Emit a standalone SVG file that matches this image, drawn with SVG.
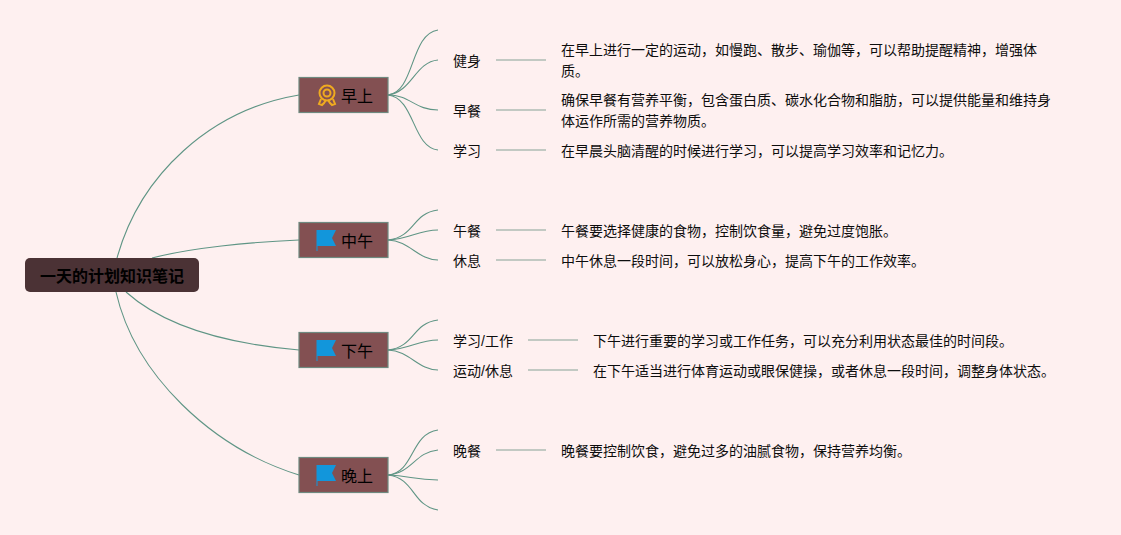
<svg xmlns="http://www.w3.org/2000/svg" width="1121" height="535" viewBox="0 0 1121 535">
<style>
text{font-family:"Liberation Sans","Noto Sans CJK SC",sans-serif;font-size:14px;fill:#0d0d0d}
.c{fill:none;stroke:#5f9585;stroke-width:1.100}
.l{fill:none;stroke:#aebcb4;stroke-width:1.500}
.t{fill:#835052;stroke:#6e8a80;stroke-width:1.200}
.tt{font-size:16px;fill:#000}
.flag{fill:#1296db}
.flagp{fill:none;stroke:#1296db;stroke-width:1}
</style>
<rect width="1121" height="535" fill="#fef0f0"/>
<g id="connectors">
<path class="c" d="M117 258C140 175 210 110 299 95"/>
<path class="c" d="M152 258C190 248 250 242 299 240"/>
<path class="c" d="M126 292C165 327 230 344 299 350"/>
<path class="c" d="M116 292C135 375 212 448 299 475"/>
<path class="c" d="M388 95C415 92 410 34 438 30"/>
<path class="c" d="M388 95C412 92 415 62 438 60"/>
<path class="c" d="M388 95C410 95 415 110 438 110"/>
<path class="c" d="M388 95C415 98 412 147 438 150"/>
<path class="c" d="M388 240C415 237 412 213 438 210"/>
<path class="c" d="M388 240C410 239 418 230 438 230"/>
<path class="c" d="M388 240C410 241 418 260 438 260"/>
<path class="c" d="M388 350C415 347 412 323 438 320"/>
<path class="c" d="M388 350C410 349 418 340 438 340"/>
<path class="c" d="M388 350C410 351 418 370 438 370"/>
<path class="c" d="M388 475C415 472 410 434 438 430"/>
<path class="c" d="M388 475C412 473 415 452 438 450"/>
<path class="c" d="M388 475C410 476 415 480 438 480"/>
<path class="c" d="M388 475C415 478 412 506 438 510"/>
<path class="l" d="M496 60H546M496 110H546M496 150H546M496 230H546M496 260H546M528 340H578M528 370H578M496 450H546"/>
</g>
<g id="root"><rect x="25" y="258" width="174" height="34" rx="5" fill="#4b3235"/><text x="112" y="281.500" text-anchor="middle" style="font-size:16px;font-weight:700;fill:#000">一天的计划知识笔记</text></g>
<g id="morning">
<rect class="t" x="299" y="77.500" width="89" height="35"/>
<g fill="none" stroke="#efaa20" stroke-width="2"><circle cx="327" cy="93" r="7.500"/><circle cx="327" cy="93" r="3.500"/><path d="M321 99L319 104L322 105L324 103L326 100M333 99L335 104L332 105L330 103L328 100"/></g>
<text class="tt" x="341" y="102">早上</text>
</g>
<g id="noon">
<rect class="t" x="299" y="222.500" width="89" height="35"/>
<path class="flag" d="M317 230H336L332 238L336 246H317Z"/><path class="flagp" d="M317 230V251"/>
<text class="tt" x="341" y="247">中午</text>
</g>
<g id="afternoon">
<rect class="t" x="299" y="332.500" width="89" height="35"/>
<path class="flag" d="M317 340H336L332 348L336 356H317Z"/><path class="flagp" d="M317 340V361"/>
<text class="tt" x="341" y="357">下午</text>
</g>
<g id="evening">
<rect class="t" x="299" y="457.500" width="89" height="35"/>
<path class="flag" d="M317 465H336L332 473L336 481H317Z"/><path class="flagp" d="M317 465V486"/>
<text class="tt" x="341" y="482">晚上</text>
</g>
<g id="n-jianshen"><text x="453" y="66">健身</text></g>
<g id="n-zaocan"><text x="453" y="116">早餐</text></g>
<g id="n-xuexi"><text x="453" y="156">学习</text></g>
<g id="n-wucan"><text x="453" y="236">午餐</text></g>
<g id="n-xiuxi"><text x="453" y="266">休息</text></g>
<g id="n-xxgz"><text x="453" y="346">学习/工作</text></g>
<g id="n-ydxx"><text x="453" y="376">运动/休息</text></g>
<g id="n-wancan"><text x="453" y="456">晚餐</text></g>
<g id="d-jianshen"><text x="561" y="55">在早上进行一定的运动，如慢跑、散步、瑜伽等，可以帮助提醒精神，增强体</text><text x="561" y="76">质。</text></g>
<g id="d-zaocan"><text x="561" y="105">确保早餐有营养平衡，包含蛋白质、碳水化合物和脂肪，可以提供能量和维持身</text><text x="561" y="126">体运作所需的营养物质。</text></g>
<g id="d-xuexi"><text x="561" y="156">在早晨头脑清醒的时候进行学习，可以提高学习效率和记忆力。</text></g>
<g id="d-wucan"><text x="561" y="236">午餐要选择健康的食物，控制饮食量，避免过度饱胀。</text></g>
<g id="d-xiuxi"><text x="561" y="266">中午休息一段时间，可以放松身心，提高下午的工作效率。</text></g>
<g id="d-xxgz"><text x="593" y="346">下午进行重要的学习或工作任务，可以充分利用状态最佳的时间段。</text></g>
<g id="d-ydxx"><text x="593" y="376">在下午适当进行体育运动或眼保健操，或者休息一段时间，调整身体状态。</text></g>
<g id="d-wancan"><text x="561" y="456">晚餐要控制饮食，避免过多的油腻食物，保持营养均衡。</text></g>
</svg>
